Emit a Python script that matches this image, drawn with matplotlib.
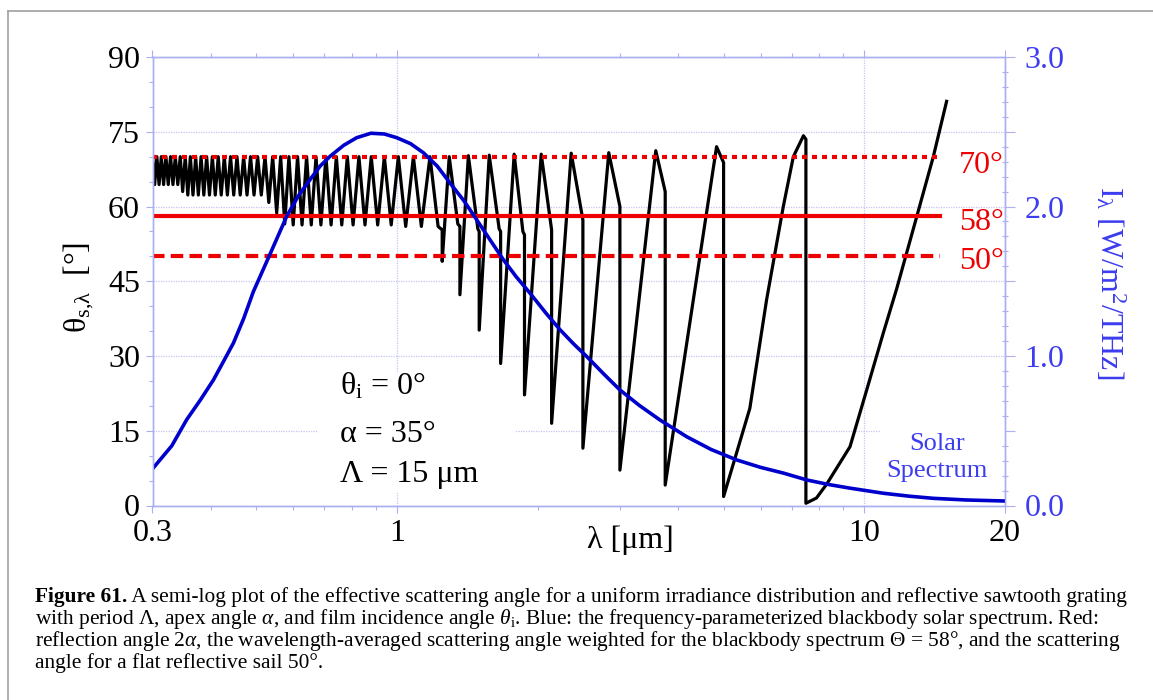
import numpy as np
import matplotlib
matplotlib.use("Agg")
import matplotlib.pyplot as plt
from matplotlib.lines import Line2D
from matplotlib.patches import Rectangle
from matplotlib.ticker import FixedLocator, FuncFormatter, NullFormatter

plt.rcParams.update({
    "font.family": "Liberation Serif",
    "mathtext.fontset": "custom",
    "mathtext.rm": "Liberation Serif",
    "mathtext.it": "Liberation Serif:italic",
    "mathtext.bf": "Liberation Serif:bold",
    "axes.unicode_minus": False,
})

# scattering angle vs wavelength (vertices)
lam_black = [
    0.300, 0.3032, 0.3065, 0.3099, 0.3133, 0.3169, 0.3205, 0.3242, 0.3279, 0.3318,
    0.3357, 0.3398, 0.3439, 0.3481, 0.3525, 0.3570, 0.3615, 0.3662, 0.3711, 0.3760,
    0.3811, 0.3863, 0.3917, 0.3972, 0.4029, 0.4087, 0.4147, 0.4209, 0.4273, 0.4338,
    0.4406, 0.4476, 0.4548, 0.4622, 0.4700, 0.4779, 0.4862, 0.4947, 0.5036, 0.5127,
    0.5222, 0.5321, 0.5423, 0.5531, 0.5640, 0.5755, 0.5875, 0.6000, 0.6130, 0.6267,
    0.6409, 0.6558, 0.6714, 0.6878, 0.7050, 0.7231, 0.7421, 0.7622, 0.7833, 0.8059,
    0.8294, 0.8545, 0.8813, 0.9097, 0.9400, 0.9724, 1.0071, 1.0444, 1.0846, 1.128,
    1.177, 1.225, 1.25, 1.25, 1.294, 1.35, 1.364, 1.364, 1.422, 1.49,
    1.50, 1.50, 1.576, 1.655, 1.667, 1.667, 1.782, 1.86, 1.875, 1.875,
    2.036, 2.143, 2.143, 2.36, 2.50, 2.50, 2.84, 3.00, 3.00, 3.58,
    3.75, 3.75, 4.83, 5.00, 5.00, 5.69, 6.18, 6.71, 7.05, 7.41,
    7.50, 7.50, 7.90, 8.31, 9.32, 10.12, 10.98, 11.73, 12.95, 14.05,
    15.0,
]
theta_black = [
    70.0, 64.4, 70.0, 64.4, 70.0, 64.4, 70.0, 64.4, 70.0, 64.4,
    70.0, 64.4, 70.0, 63.0, 70.0, 62.3, 70.0, 62.3, 70.0, 62.3,
    70.0, 62.3, 70.0, 62.3, 70.0, 62.3, 70.0, 62.3, 70.0, 62.3,
    70.0, 62.3, 70.0, 62.3, 70.0, 62.3, 70.0, 62.3, 70.0, 62.3,
    70.0, 60.8, 70.0, 58.7, 70.0, 56.5, 70.0, 56.3, 70.0, 56.3,
    70.0, 56.3, 70.0, 56.3, 70.0, 56.3, 70.0, 56.3, 70.0, 56.3,
    70.0, 56.3, 70.0, 56.3, 70.0, 56.3, 70.0, 56.0, 70.0, 56.0,
    70.0, 56.0, 55.3, 49.0, 70.0, 56.5, 56.0, 42.3, 70.2, 55.5,
    55.0, 35.2, 70.3, 55.5, 55.0, 28.5, 70.5, 55.0, 54.3, 22.2,
    70.5, 55.3, 16.5, 70.7, 57.3, 11.5, 70.8, 60.0, 7.1, 71.2,
    63.0, 4.1, 72.0, 68.8, 1.8, 19.5, 41.3, 60.0, 70.0, 74.2,
    73.5, 0.45, 1.5, 4.3, 11.8, 23.2, 34.6, 43.5, 58.0, 70.0,
    81.1,
]

# blackbody solar spectrum (right axis)
lam_sun = [0.30, 0.33, 0.355, 0.38, 0.405, 0.425, 0.447, 0.47, 0.493, 0.535,
           0.581, 0.615, 0.652, 0.685, 0.719, 0.77, 0.82, 0.88, 0.94, 1.00,
           1.07, 1.139, 1.22, 1.299, 1.39, 1.481, 1.58, 1.689, 1.80, 1.927,
           2.08, 2.233, 2.39, 2.547, 2.77, 3.00, 3.30, 3.655, 4.17, 4.70,
           5.33, 6.00, 6.71, 7.53, 8.40, 9.32, 10.98, 12.5, 14.05, 16.5, 20.0]
irr_sun = [0.245, 0.40, 0.574, 0.707, 0.84, 0.96, 1.087, 1.25, 1.43, 1.68,
           1.934, 2.07, 2.18, 2.27, 2.335, 2.41, 2.46, 2.49, 2.485, 2.46,
           2.42, 2.36, 2.27, 2.157, 2.04, 1.912, 1.78, 1.645, 1.53, 1.42,
           1.29, 1.176, 1.08, 0.997, 0.88, 0.773, 0.67, 0.572, 0.46, 0.375,
           0.305, 0.255, 0.217, 0.171, 0.14, 0.116, 0.082, 0.062, 0.048, 0.037, 0.03]

ref_angles = [70, 58, 50]
ref_styles = [(0, (1.2, 1.2)), "-", (0, (3, 1.5))]
ref_label_y = [66.7, 55.3, 47.4]
ref_xmax = 14.5

xticks = [0.3, 1, 10, 20]
xtick_labels = ["0.3", "1", "10", "20"]
xminor = [0.4, 0.5, 0.6, 0.7, 0.8, 0.9, 2, 3, 4, 5, 6, 7, 8, 9]

spine_col = "#aab0f2"
grid_col = "#c4c6f2"
blue_txt = "#3c3cf0"
W, H = 1153, 700

fig = plt.figure(figsize=(W / 100, H / 100), dpi=100)
ax = fig.add_axes([152.5 / W, 1 - 505.5 / H, 852.5 / W, 448.5 / H])
ax.set_xscale("log")
ax.set_xlim(0.3, 20)
ax.set_ylim(0, 90)
ax.set_axisbelow(True)

ax.plot(lam_black, theta_black, color="black", lw=2.3, zorder=2, solid_joinstyle="round")
for a, ls, ly in zip(ref_angles, ref_styles, ref_label_y):
    ax.plot([0.3, ref_xmax], [a, a], color="#ee0000", lw=3, ls=ls, zorder=3)
    ax.text(0.946, ly, f"{a}°", color="#ee0000", fontsize=23,
            transform=ax.get_yaxis_transform(), va="baseline", ha="left")

ax.set_yticks(np.arange(0, 91, 15))
ax.yaxis.set_minor_locator(FixedLocator(np.arange(0, 91, 5)))
ax.set_xticks(xticks)
ax.set_xticklabels(xtick_labels)
ax.set_xticks(xminor, minor=True)
ax.xaxis.set_minor_formatter(NullFormatter())
ax.grid(True, which="major", color=grid_col, ls=(0, (1, 1)), lw=0.9)
ax.tick_params(which="major", labelsize=23, color=spine_col, length=5, width=0.8,
               direction="out")
ax.tick_params(which="minor", color=spine_col, length=3, width=0.8, direction="out")
ax.tick_params(axis="x", which="both", top=True, pad=5)
ax.tick_params(axis="y", pad=4)
for s in ax.spines.values():
    s.set_color(spine_col)
    s.set_linewidth(1.0)

# white boxes behind the annotations
ax.add_patch(Rectangle((0.194, 0.028), 0.231, 0.267, transform=ax.transAxes,
                       facecolor="white", edgecolor="none", zorder=1))
ax.add_patch(Rectangle((0.853, 0.035), 0.147, 0.145, transform=ax.transAxes,
                       facecolor="white", edgecolor="none", zorder=1))

ann = [r"$\mathregular{θ_i}$ = 0°", "α = 35°", "Λ = 15 μm"]
ann_y = [0.2464, 0.1416, 0.0524]
for t, yy in zip(ann, ann_y):
    ax.text(0.22, yy, t, transform=ax.transAxes, fontsize=23, va="baseline", ha="left")

ax.text(0.920, 0.1237, "Solar", transform=ax.transAxes, fontsize=19,
        color=blue_txt, ha="center", va="baseline")
ax.text(0.920, 0.0635, "Spectrum", transform=ax.transAxes, fontsize=19,
        color=blue_txt, ha="center", va="baseline")

ax.text(0.56, -0.0948, "λ [μm]", transform=ax.transAxes, fontsize=23,
        ha="center", va="baseline")

ax2 = ax.twinx()
ax2.set_ylim(0, 3.0)
ax2.plot(lam_sun, irr_sun, color="#0000cc", lw=2.6, solid_capstyle="round",
         solid_joinstyle="round")
ax2.yaxis.set_major_locator(FixedLocator(np.arange(0, 3.01, 0.5)))
ax2.yaxis.set_major_formatter(FuncFormatter(
    lambda v, p: f"{v:.1f}" if abs(v - round(v)) < 1e-6 else ""))
ax2.yaxis.set_minor_locator(FixedLocator(np.arange(0, 3.01, 0.1)))
ax2.tick_params(axis="y", which="major", labelsize=23, labelcolor=blue_txt,
                color=spine_col, length=7, width=0.8, direction="out", pad=7)
ax2.tick_params(axis="y", which="minor", color=spine_col, length=4, width=0.8,
                direction="inout")
for s in ax2.spines.values():
    s.set_color(spine_col)
    s.set_linewidth(1.0)

fig.text(79 / W, 1 - 287 / H, r"$\mathregular{θ_{s{,}λ}}$  [°]", rotation=90,
         fontsize=23, ha="center", va="center")
fig.text(1110 / W, 1 - 283 / H, r"$\mathregular{I_λ}$ [W/m$\mathregular{^2}$/THz]",
         rotation=270, fontsize=23, color=blue_txt, ha="center", va="center")

# page frame
fig.add_artist(Line2D([8 / W, 1], [1 - 11 / H, 1 - 11 / H], color="#a0a0a0", lw=1.2))
fig.add_artist(Line2D([8 / W, 8 / W], [0, 1 - 11 / H], color="#a0a0a0", lw=1.2))

# caption, sized so that the first line spans the text block
cap_x, cap_right = 35, 1117
cap_base = [602, 624, 646, 668]
cap_head = "Figure 61."
cap_lines = [
    " A semi-log plot of the effective scattering angle for a uniform irradiance distribution and reflective sawtooth grating",
    r"with period Λ, apex angle $\alpha$, and film incidence angle $\theta_\mathrm{i}$. Blue: the frequency-parameterized blackbody solar spectrum. Red:",
    r"reflection angle 2$\alpha$, the wavelength-averaged scattering angle weighted for the blackbody spectrum Θ = 58°, and the scattering",
    "angle for a flat reflective sail 50°.",
]
fig.canvas.draw()
rend = fig.canvas.get_renderer()
probe_fs = 13.0
p1 = fig.text(0, 0, cap_head, fontsize=probe_fs, fontweight="bold")
p2 = fig.text(0, 0, cap_lines[0], fontsize=probe_fs)
w_probe = p1.get_window_extent(rend).width + p2.get_window_extent(rend).width
p1.remove()
p2.remove()
cap_fs = probe_fs * (cap_right - cap_x) / w_probe

tb = fig.text(cap_x / W, 1 - cap_base[0] / H, cap_head, fontsize=cap_fs,
              fontweight="bold", va="baseline")
bx = tb.get_window_extent(rend).x1
fig.text(bx / W, 1 - cap_base[0] / H, cap_lines[0], fontsize=cap_fs, va="baseline")
for line, yb in zip(cap_lines[1:], cap_base[1:]):
    fig.text(cap_x / W, 1 - yb / H, line, fontsize=cap_fs, va="baseline")

fig.savefig("out.png", dpi=100)
